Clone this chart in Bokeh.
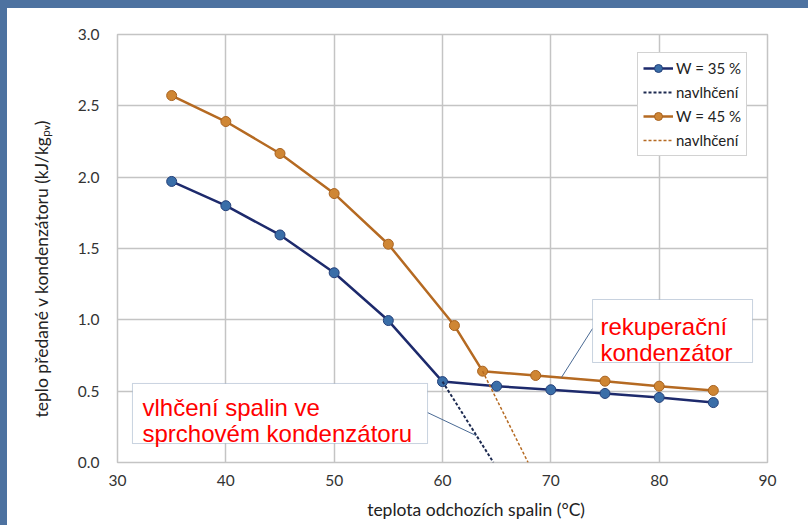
from bokeh.plotting import figure
from bokeh.models import (Label, BoxAnnotation, Legend, LegendItem, SingleIntervalTicker,
                          NumeralTickFormatter, Range1d)
from bokeh.embed import file_html
from bokeh.resources import INLINE

# ---- data ----
temp_35 = [35, 40, 45, 50, 55, 60, 65, 70, 75, 80, 85]
heat_35 = [1.97, 1.80, 1.595, 1.33, 0.995, 0.567, 0.535, 0.51, 0.484, 0.456, 0.42]
wet_temp_35 = [60, 64.7]
wet_heat_35 = [0.567, 0.0]

temp_45 = [35, 40, 45, 50, 55, 61.1, 63.7, 68.6, 75, 80, 85]
heat_45 = [2.572, 2.39, 2.166, 1.885, 1.53, 0.96, 0.64, 0.61, 0.57, 0.535, 0.505]
wet_temp_45 = [63.7, 67.9]
wet_heat_45 = [0.64, 0.0]

series_labels = ["W = 35 %", "navlhčení", "W = 45 %", "navlhčení"]
x_title = "teplota odchozích spalin (°C)"
y_title = "teplo předané v kondenzátoru (kJ/kgₚᵥ)"
note_recup = ["rekuperační", "kondenzátor"]
note_wet = ["vlhčení spalin ve", "sprchovém kondenzátoru"]

FONT = "Lato"
NAVY = "#1d2a6c"
NAVY_FILL = "#3a6ea8"
ORANGE = "#b56a22"
ORANGE_FILL = "#cf8634"
GRID = "#c4c4c4"
SLIDE_BLUE = "#4d72a0"

p = figure(width=808, height=525, x_range=Range1d(30, 90), y_range=Range1d(0, 3),
           output_backend="svg", toolbar_location=None,
           min_border_left=117, min_border_right=41, min_border_top=34, min_border_bottom=63)
p.background_fill_color = "white"
p.border_fill_color = "white"
p.border_fill_alpha = 0
# slide background showing along the left and top edges of the white chart panel
p.styles = {"background-color": "white", "box-shadow": f"inset 7px 8px 0 0 {SLIDE_BLUE}"}
p.outline_line_color = GRID
p.outline_line_width = 1.5

p.xaxis.ticker = SingleIntervalTicker(interval=10)
p.yaxis.ticker = SingleIntervalTicker(interval=0.5)
p.yaxis.formatter = NumeralTickFormatter(format="0.0")
for ax in (p.xaxis, p.yaxis):
    ax.axis_line_color = None
    ax.major_tick_line_color = None
    ax.minor_tick_line_color = None
    ax.major_tick_in = 0
    ax.major_tick_out = 0
    ax.major_label_text_font = FONT
    ax.major_label_text_font_size = "15.5px"
    ax.major_label_text_color = "#333333"
    ax.axis_label_text_font = FONT
    ax.axis_label_text_font_size = "17.5px"
    ax.axis_label_text_font_style = "normal"
    ax.axis_label_text_color = "#222222"
p.yaxis.major_label_standoff = 14
p.xaxis.major_label_standoff = 8
# non-breaking spaces shift the centred titles, as placed in the original
p.yaxis.axis_label = y_title + "\u00a0" * 9
p.yaxis.axis_label_standoff = 23
p.xaxis.axis_label = "\u00a0" * 15 + x_title
p.xaxis.axis_label_standoff = 10

p.xgrid.grid_line_color = GRID
p.ygrid.grid_line_color = GRID
p.xgrid.grid_line_width = 1.5
p.ygrid.grid_line_width = 1.5

# series
l35 = p.line(temp_35, heat_35, line_color=NAVY, line_width=2.5)
s35 = p.scatter(temp_35, heat_35, size=10, fill_color=NAVY_FILL, line_color="#24407a", line_width=1)
d35 = p.line(wet_temp_35, wet_heat_35, line_color="#1d2a50", line_width=2, line_dash="3 2")
l45 = p.line(temp_45, heat_45, line_color=ORANGE, line_width=2.5)
s45 = p.scatter(temp_45, heat_45, size=10, fill_color=ORANGE_FILL, line_color="#a8621f", line_width=1)
d45 = p.line(wet_temp_45, wet_heat_45, line_color=ORANGE, line_width=1.5, line_dash="3 2")

legend = Legend(items=[
    LegendItem(label=series_labels[0], renderers=[l35, s35]),
    LegendItem(label=series_labels[1], renderers=[d35]),
    LegendItem(label=series_labels[2], renderers=[l45, s45]),
    LegendItem(label=series_labels[3], renderers=[d45]),
], location=(520, 306))
legend.label_text_font = FONT
legend.label_text_font_size = "15px"
legend.label_text_color = "#222222"
legend.glyph_width = 30
legend.glyph_height = 20
legend.label_height = 20
legend.label_standoff = 3
legend.spacing = 4
legend.padding = 5
legend.margin = 0
legend.border_line_color = "#a6a6a6"
legend.border_line_width = 1
legend.background_fill_alpha = 1
p.add_layout(legend)

# callouts
BOX_LINE = "#4a6a94"
p.line([73.85, 70.98], [0.939, 0.596], line_color=BOX_LINE, line_width=1)
p.line([58.62, 63.1], [0.350, 0.189], line_color=BOX_LINE, line_width=1)
p.add_layout(BoxAnnotation(left=73.85, right=88.62, bottom=0.701, top=1.1425,
                           fill_color="white", fill_alpha=1, line_color=BOX_LINE, line_width=1))
p.add_layout(BoxAnnotation(left=31.38, right=58.62, bottom=0.133, top=0.554,
                           fill_color="white", fill_alpha=1, line_color=BOX_LINE, line_width=1))
for txt, yy in zip(note_recup, [0.9553, 0.7731]):
    p.add_layout(Label(x=74.58, y=yy, text=txt, text_color="#ff0000", text_font="Liberation Sans",
                       text_font_size="24px", text_baseline="alphabetic", text_align="left"))
for txt, yy in zip(note_wet, [0.3855, 0.2033]):
    p.add_layout(Label(x=32.31, y=yy, text=txt, text_color="#ff0000", text_font="Liberation Sans",
                       text_font_size="24px", text_baseline="alphabetic", text_align="left"))

open("out.html", "w").write(file_html(p, INLINE))
